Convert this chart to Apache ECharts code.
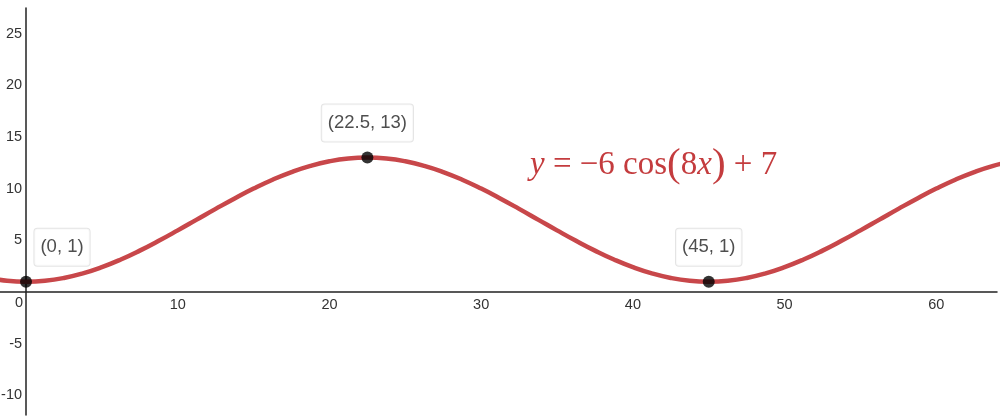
<!DOCTYPE html>
<html><head><meta charset="utf-8">
<script src="https://cdn.jsdelivr.net/npm/echarts@6/dist/echarts.min.js"></script>
<style>html,body{margin:0;padding:0;background:#fff}#c{width:1000px;height:420px}</style>
</head><body><div id="c"></div>
<script>
// Curve samples
const curveX = [-2.5,-1.25,0,1.25,2.5,3.75,5,6.25,7.5,8.75,10,11.25,12.5,13.75,15,16.25,17.5,18.75,20,21.25,22.5,
  23.75,25,26.25,27.5,28.75,30,31.25,32.5,33.75,35,36.25,37.5,38.75,40,41.25,42.5,43.75,45,
  46.25,47.5,48.75,50,51.25,52.5,53.75,55,56.25,57.5,58.75,60,61.25,62.5,63.75,65];
const curveY = [1.36,1.09,1,1.09,1.36,1.80,2.40,3.14,4.00,4.95,5.96,7.00,8.04,9.05,10.00,10.86,11.60,12.20,12.64,12.91,13,
  12.91,12.64,12.20,11.60,10.86,10.00,9.05,8.04,7.00,5.96,4.95,4.00,3.14,2.40,1.80,1.36,1.09,1,
  1.09,1.36,1.80,2.40,3.14,4.00,4.95,5.96,7.00,8.04,9.05,10.00,10.86,11.60,12.20,12.64];
const pointX = [0, 22.5, 45];
const pointY = [1, 13, 1];
const pointLabels = ['(0, 1)', '(22.5, 13)', '(45, 1)'];
const xTicks = [10, 20, 30, 40, 50, 60];
const yTicks = [-10, -5, 5, 10, 15, 20, 25];

const FONT = 'Liberation Sans, Arial, sans-serif';
const SERIF = 'Liberation Serif, DejaVu Serif, serif';
const chart = echarts.init(document.getElementById('c'));
const axisLine = {show:true, onZero:false, lineStyle:{color:'#222', width:1.5}};
const lblFont = {color:'#333', fontSize:14.5, fontFamily:FONT};
const option = {
  animation:false,
  grid:{left:0, right:3, top:8, bottom:5, containLabel:false, outerBoundsMode:'none'},
  xAxis:{type:'value', position:'bottom', min:-1.715, max:64.0, axisLine,
    axisTick:{show:false}, splitLine:{show:false},
    axisLabel:Object.assign({customValues:xTicks, margin:6, hideOverlap:false}, lblFont)},
  yAxis:{type:'value', position:'left', min:-11.9, max:27.47, axisLine,
    axisTick:{show:false}, splitLine:{show:false},
    axisLabel:Object.assign({customValues:yTicks, margin:4, hideOverlap:false}, lblFont)},
  series:[
    {type:'line', data:curveX.map((x,i)=>[x,curveY[i]]), showSymbol:false, smooth:true, clip:true,
     lineStyle:{color:'#c8474a', width:4.5}, z:2},
    {type:'scatter', data:pointX.map((x,i)=>({value:[x,pointY[i]], label:{offset: i===0?[36,0]:[0,0]}})),
     symbolSize:12, itemStyle:{color:'#000'}, z:5,
     label:{show:true, position:'top', distance:10,
       formatter:p=>pointLabels[p.dataIndex],
       fontSize:18.5, color:'#222', fontFamily:FONT,
       backgroundColor:'#fff', borderColor:'#ddd', borderWidth:1, borderRadius:3,
       padding:[9,6,9,6]}}
  ]
};
chart.setOption(option);
// move both axes to cross at the origin, computed through the library's scales
const o = chart.convertToPixel({gridIndex:0}, [0,0]);
const H = 420 - 5, L = 0;
chart.setOption({
  xAxis:{offset: -(H - o[1])},
  yAxis:{offset: -(o[0] - L)},
  graphic:[
  {type:'text', left:o[0]-11, top:o[1]+4, style:{text:'0', fill:'#333', fontSize:14.5, fontFamily:FONT}},
  {type:'text', left:530, top:145, style:{
    text:'{i|y}{n| = −6 cos}{p|(}{n|8}{i|x}{p|)}{n| + 7}',
    rich:{
      i:{fontFamily:SERIF, fontStyle:'italic', fontSize:33, fill:'#c43c3e'},
      n:{fontFamily:SERIF, fontSize:33, fill:'#c43c3e'},
      p:{fontFamily:SERIF, fontSize:41, fill:'#c43c3e'}
    }}}
]});
</script></body></html>
